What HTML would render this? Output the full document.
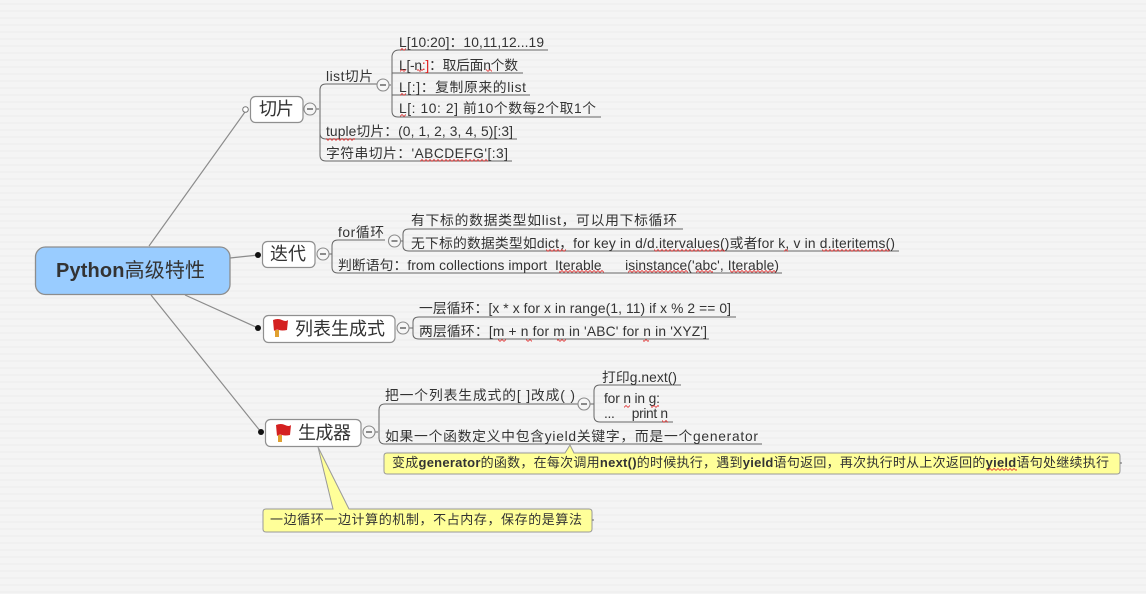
<!DOCTYPE html>
<html><head><meta charset="utf-8">
<style>
html,body{margin:0;padding:0;width:1146px;height:594px;overflow:hidden;background:#f3f3f3}
svg{display:block;position:absolute;left:0;top:0;filter:blur(.3px)}
text{font-family:"Liberation Sans","Noto Sans CJK SC",sans-serif;font-size:13.8px;fill:#333}
.t{font-size:18px}
.l{fill:none;stroke:#8c8c8c;stroke-width:1.2}
.u{fill:none;stroke:#666;stroke-width:1}
.n{fill:#fff;stroke:#8f8f8f;stroke-width:1.2}
.c{fill:#f6f6f6;stroke:#8a8a8a;stroke-width:1.1}
.m{stroke:#444;stroke-width:1.2}
.y{fill:#ffff99;stroke:#999;stroke-width:1}
</style></head><body>
<svg width="1146" height="594" viewBox="0 0 1146 594" xmlns="http://www.w3.org/2000/svg">
<defs>
<pattern id="bg" width="6" height="7" patternUnits="userSpaceOnUse"><rect width="6" height="7" fill="#f4f4f4"/><rect y="3" width="6" height="2" fill="#f0f0f0"/></pattern>
<pattern id="w" width="4" height="3" patternUnits="userSpaceOnUse"><path d="M0 2.5L2 .5L4 2.5" fill="none" stroke="#e03030" stroke-width=".8"/></pattern>
<g id="minus"><circle r="6" class="c"/><line x1="-3" x2="3" class="m"/></g>
<g id="flag"><rect x="3" y="11" width="4" height="7" fill="#e0a030"/><path d="M1 1Q6 -1 10 1T16 1L15 11Q10 12 7 11T2 12Z" fill="#d42020"/></g>
</defs>
<rect width="1146" height="594" fill="url(#bg)"/>

<!-- main connectors -->
<path class="l" d="M149 246L245 112M230 258L258 255M185 295L258 328M151 295L261 432"/>
<circle cx="245.500" cy="109.500" r="2.800" fill="#fff" stroke="#777"/>
<circle cx="258" cy="255" r="3" fill="#111"/>
<circle cx="258" cy="328" r="3" fill="#111"/>
<circle cx="261" cy="432" r="3" fill="#111"/>

<!-- root -->
<rect x="35.500" y="247" width="194.500" height="47.500" rx="10" fill="#99ccff" stroke="#8d8d8d" stroke-width="1.300"/>
<text x="56" y="277" textLength="149" style="font-size:20px;font-weight:bold">Python<tspan style="font-weight:normal">高级特性</tspan></text>

<!-- brackets / underlines: qiepian -->
<path class="u" d="M316 109H319M377 84H326Q320 84 320 90V133Q320 139 326 139H517M320 133V155Q320 161 326 161H512"/>
<path class="u" d="M389 85H391M548 50H399Q393 50 392 56V111Q392 117 398 117H601M392 73H523M392 95H530"/>
<!-- diedai -->
<path class="u" d="M329 254H332M385 240H338Q332 240 332 246V267Q332 273 338 273H782"/>
<path class="u" d="M400 241H403M683 229H409Q403 229 403 234V246Q403 251 409 251H899"/>
<!-- liebiao -->
<path class="u" d="M409 328H413M736 317H419Q413 317 413 322V334Q413 339 419 339H709"/>
<!-- shengchengqi -->
<path class="u" d="M375 432H378M580 404H385Q379 404 379 410V438Q379 444 385 444H762"/>
<path class="u" d="M590 404H594M681 385H600Q594 385 594 391V416Q594 422 600 422H673"/>

<!-- nodes -->
<rect x="250.500" y="96.500" width="52.500" height="26" rx="5" class="n"/>
<text class="t" x="259" y="115" textLength="35">切片</text>
<use href="#minus" x="310" y="109"/>

<rect x="262.500" y="241.500" width="52.500" height="26" rx="5" class="n"/>
<text class="t" x="270" y="260" textLength="36">迭代</text>
<use href="#minus" x="323" y="254"/>

<rect x="263.500" y="315.500" width="131.500" height="27" rx="5" class="n"/>
<use href="#flag" x="272" y="319"/>
<text class="t" x="295" y="335" textLength="90">列表生成式</text>
<use href="#minus" x="403" y="328"/>

<rect x="265.500" y="419.500" width="95.500" height="27" rx="5" class="n"/>
<use href="#flag" x="275" y="424"/>
<text class="t" x="298" y="439" textLength="53">生成器</text>
<use href="#minus" x="369" y="432"/>

<use href="#minus" x="383" y="85"/>
<use href="#minus" x="394.500" y="241"/>
<use href="#minus" x="584" y="404"/>

<!-- qiepian text -->
<text x="326" y="81" textLength="47">list切片</text>
<text x="399" y="47" textLength="145">L[10:20]：10,11,12...19</text>
<text x="399" y="70" textLength="119">L[-n<tspan style="fill:#e02020">:]</tspan>：取后面n个数</text>
<text x="399" y="92" textLength="127">L[:]：复制原来的list</text>
<text x="399" y="113" textLength="197">L[: 10: 2]  前10个数每2个取1个</text>
<text x="326" y="136" textLength="187">tuple切片：(0, 1, 2, 3, 4, 5)[:3]</text>
<text x="326" y="158" textLength="182">字符串切片：'ABCDEFG'[:3]</text>

<!-- diedai text -->
<text x="338" y="237" textLength="46">for循环</text>
<text x="411" y="225" textLength="266">有下标的数据类型如list，可以用下标循环</text>
<text x="411" y="248" textLength="484">无下标的数据类型如dict，for key in d/d.itervalues()或者for k, v in d.iteritems()</text>
<text x="338" y="270" textLength="441" xml:space="preserve">判断语句：from collections import  Iterable      isinstance('abc', Iterable)</text>

<!-- liebiao text -->
<text x="419" y="313" textLength="312">一层循环：[x * x for x in range(1, 11) if x % 2 == 0]</text>
<text x="419" y="336" textLength="288">两层循环：[m + n for m in 'ABC' for n in 'XYZ']</text>

<!-- generator text -->
<text x="385" y="400" textLength="190">把一个列表生成式的[ ]改成( )</text>
<text x="602" y="382" textLength="75">打印g.next()</text>
<text x="604" y="403" textLength="56">for n in g:</text>
<text x="604" y="418" textLength="64" xml:space="preserve">...     print n</text>
<text x="385" y="441" textLength="373">如果一个函数定义中包含yield关键字，而是一个generator</text>

<!-- notes -->
<path class="y" d="M384 456Q384 453 387 453H565L570 445L574 453H1117Q1120 453 1120 456V471Q1120 474 1117 474H387Q384 474 384 471Z"/>
<path class="u" d="M1120 463H1122"/>
<text x="392" y="467" textLength="717" style="font-size:13px">变成<tspan style="font-weight:bold">generator</tspan>的函数，在每次调用<tspan style="font-weight:bold">next()</tspan>的时候执行，遇到<tspan style="font-weight:bold">yield</tspan>语句返回，再次执行时从上次返回的<tspan style="font-weight:bold">yield</tspan>语句处继续执行</text>

<path class="y" d="M263 512Q263 509 266 509H333L318 447L349 509H589Q592 509 592 512V529Q592 532 589 532H266Q263 532 263 529Z"/>
<path class="u" d="M592 520H594"/>
<text x="270" y="524" textLength="312" style="font-size:13px">一边循环一边计算的机制，不占内存，保存的是算法</text>

<!-- squiggles -->
<g fill="url(#w)">
<rect x="400" y="48" width="6" height="3"/>
<rect x="400" y="69" width="6" height="3"/>
<rect x="417" y="69" width="6" height="3"/>
<rect x="486" y="69" width="6" height="3"/>
<rect x="400" y="93" width="6" height="3"/>
<rect x="400" y="114" width="6" height="3"/>
<rect x="326" y="138" width="29" height="3"/>
<rect x="420" y="159" width="68" height="3"/>
<rect x="546" y="249" width="20" height="3"/>
<rect x="654" y="249" width="71" height="3"/>
<rect x="784" y="249" width="4" height="3"/>
<rect x="822" y="249" width="68" height="3"/>
<rect x="559" y="270" width="45" height="3"/>
<rect x="628" y="270" width="60" height="3"/>
<rect x="696" y="270" width="17" height="3"/>
<rect x="730" y="270" width="46" height="3"/>
<rect x="498" y="339" width="8" height="3"/>
<rect x="526" y="339" width="6" height="3"/>
<rect x="557" y="339" width="9" height="3"/>
<rect x="643" y="339" width="6" height="3"/>
<rect x="624" y="405" width="6" height="3"/>
<rect x="651" y="405" width="8" height="3"/>
<rect x="662" y="420" width="6" height="3"/>
<rect x="987" y="468" width="30" height="3"/>
</g>
</svg>
</body></html>
